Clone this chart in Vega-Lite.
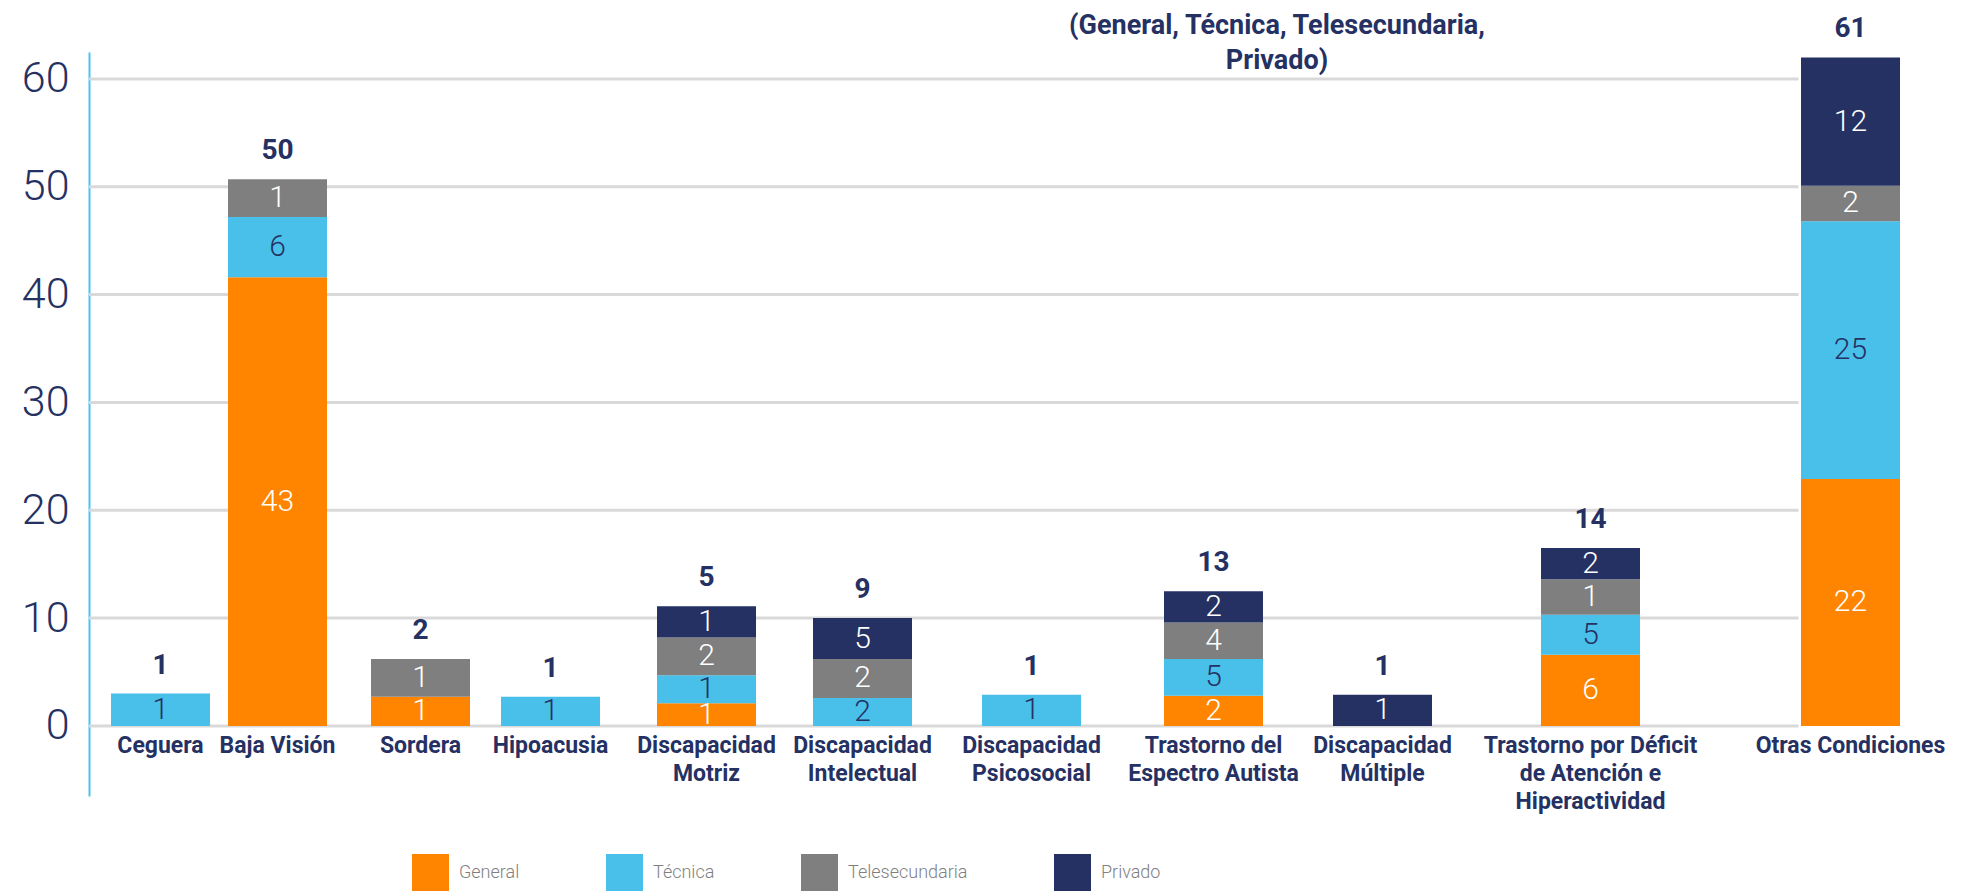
{
  "$schema": "https://vega.github.io/schema/vega-lite/v6.json",
  "width": 1702,
  "height": 744,
  "autosize": {"type": "none"},
  "padding": {"left": 89, "top": 52, "right": 184, "bottom": 95},
  "background": "white",
  "config": {
    "view": {"stroke": null},
    "font": "Roboto",
    "legend": {
      "orient": "none",
      "legendX": 323,
      "legendY": 802,
      "direction": "horizontal",
      "columns": 4,
      "padding": 0,
      "symbolType": "square",
      "symbolSize": 1369,
      "symbolStrokeWidth": 0,
      "symbolOpacity": 1,
      "labelFontSize": 18,
      "labelFont": "Roboto",
      "labelFontWeight": 300,
      "labelColor": "#7F7F7F",
      "columnPadding": 86,
      "labelOffset": 10
    }
  },
  "title": {
    "text": ["(General, Técnica, Telesecundaria,", "Privado)"],
    "anchor": "start",
    "frame": "group",
    "align": "center",
    "dx": 1188,
    "dy": 63,
    "offset": -24,
    "baseline": "bottom",
    "fontSize": 27,
    "fontWeight": "bold",
    "font": "Roboto",
    "color": "#263163",
    "lineHeight": 35
  },
  "data": {
    "values": [
      {"categoria": "Ceguera", "tipo": "Técnica", "valor": 1, "alto": 3.0},
      {"categoria": "Baja Visión", "tipo": "General", "valor": 43, "alto": 41.6},
      {"categoria": "Baja Visión", "tipo": "Técnica", "valor": 6, "alto": 5.6},
      {"categoria": "Baja Visión", "tipo": "Telesecundaria", "valor": 1, "alto": 3.5},
      {"categoria": "Sordera", "tipo": "General", "valor": 1, "alto": 2.7},
      {"categoria": "Sordera", "tipo": "Telesecundaria", "valor": 1, "alto": 3.5},
      {"categoria": "Hipoacusia", "tipo": "Técnica", "valor": 1, "alto": 2.7},
      {"categoria": "Discapacidad Motriz", "tipo": "General", "valor": 1, "alto": 2.1},
      {"categoria": "Discapacidad Motriz", "tipo": "Técnica", "valor": 1, "alto": 2.6},
      {"categoria": "Discapacidad Motriz", "tipo": "Telesecundaria", "valor": 2, "alto": 3.5},
      {"categoria": "Discapacidad Motriz", "tipo": "Privado", "valor": 1, "alto": 2.9},
      {"categoria": "Discapacidad Intelectual", "tipo": "Técnica", "valor": 2, "alto": 2.6},
      {"categoria": "Discapacidad Intelectual", "tipo": "Telesecundaria", "valor": 2, "alto": 3.6},
      {"categoria": "Discapacidad Intelectual", "tipo": "Privado", "valor": 5, "alto": 3.8},
      {"categoria": "Discapacidad Psicosocial", "tipo": "Técnica", "valor": 1, "alto": 2.9},
      {"categoria": "Trastorno del Espectro Autista", "tipo": "General", "valor": 2, "alto": 2.8},
      {"categoria": "Trastorno del Espectro Autista", "tipo": "Técnica", "valor": 5, "alto": 3.4},
      {"categoria": "Trastorno del Espectro Autista", "tipo": "Telesecundaria", "valor": 4, "alto": 3.4},
      {"categoria": "Trastorno del Espectro Autista", "tipo": "Privado", "valor": 2, "alto": 2.9},
      {"categoria": "Discapacidad Múltiple", "tipo": "Privado", "valor": 1, "alto": 2.9},
      {"categoria": "Trastorno por Déficit de Atención e Hiperactividad", "tipo": "General", "valor": 6, "alto": 6.6},
      {"categoria": "Trastorno por Déficit de Atención e Hiperactividad", "tipo": "Técnica", "valor": 5, "alto": 3.7},
      {"categoria": "Trastorno por Déficit de Atención e Hiperactividad", "tipo": "Telesecundaria", "valor": 1, "alto": 3.3},
      {"categoria": "Trastorno por Déficit de Atención e Hiperactividad", "tipo": "Privado", "valor": 2, "alto": 2.9},
      {"categoria": "Otras Condiciones", "tipo": "General", "valor": 22, "alto": 22.9},
      {"categoria": "Otras Condiciones", "tipo": "Técnica", "valor": 25, "alto": 23.9},
      {"categoria": "Otras Condiciones", "tipo": "Telesecundaria", "valor": 2, "alto": 3.3},
      {"categoria": "Otras Condiciones", "tipo": "Privado", "valor": 12, "alto": 11.9}
    ]
  },
  "transform": [
    {"calculate": "indexof(['General','Técnica','Telesecundaria','Privado'], datum.tipo)", "as": "orden"},
    {"stack": "alto", "groupby": ["categoria"], "sort": [{"field": "orden", "order": "ascending"}], "as": ["y0", "y1"]},
    {"calculate": "(datum.y0 + datum.y1) / 2", "as": "ymid"}
  ],
  "encoding": {
    "x": {
      "field": "categoria",
      "type": "nominal",
      "scale": {
        "type": "band",
        "paddingInner": 0,
        "paddingOuter": 0,
        "range": [0, 1833],
        "domain": ["_0","_1","_2","_3","_4","Ceguera",
          "_5","_6","_7","_8","_9","_10","_11","_12","Baja Visión",
          "_13","_14","_15","_16","_17","_18","_19","_20","_21","_22","Sordera",
          "_23","_24","_25","_26","_27","_28","_29","_30","_31","Hipoacusia",
          "_32","_33","_34","_35","_36","_37","_38","_39","_40","_41","_42","Discapacidad Motriz",
          "_43","_44","_45","_46","_47","_48","_49","_50","_51","_52","_53","Discapacidad Intelectual",
          "_54","_55","_56","_57","_58","_59","_60","_61","_62","_63","_64","_65","Discapacidad Psicosocial",
          "_66","_67","_68","_69","_70","_71","_72","_73","_74","_75","_76","_77","_78","Trastorno del Espectro Autista",
          "_79","_80","_81","_82","_83","_84","_85","_86","_87","_88","_89","_90","Discapacidad Múltiple",
          "_91","_92","_93","_94","_95","_96","_97","_98","_99","_100","_101","_102","_103","_104","_105","Trastorno por Déficit de Atención e Hiperactividad",
          "_106","_107","_108","_109","_110","_111","_112","_113","_114","_115","_116","_117","_118","_119","_120","_121","_122","_123","_124","Otras Condiciones",
          "_125","_126","_127","_128","_129"]
      },
      "axis": {
        "title": null,
        "orient": "bottom",
        "offset": -70,
        "domain": false,
        "ticks": false,
        "grid": false,
        "labelAngle": 0,
        "labelOverlap": false,
        "labelPadding": 8,
        "labelFont": "Roboto",
        "labelFontSize": 23,
        "labelFontWeight": "bold",
        "labelColor": "#263163",
        "labelLineHeight": 28,
        "labelLimit": 400,
        "labelExpr": "indexof(datum.value, '_') === 0 ? '' : datum.value == 'Discapacidad Motriz' ? ['Discapacidad', 'Motriz'] : datum.value == 'Discapacidad Intelectual' ? ['Discapacidad', 'Intelectual'] : datum.value == 'Discapacidad Psicosocial' ? ['Discapacidad', 'Psicosocial'] : datum.value == 'Trastorno del Espectro Autista' ? ['Trastorno del', 'Espectro Autista'] : datum.value == 'Discapacidad Múltiple' ? ['Discapacidad', 'Múltiple'] : datum.value == 'Trastorno por Déficit de Atención e Hiperactividad' ? ['Trastorno por Déficit', 'de Atención e', 'Hiperactividad'] : datum.value"
      }
    }
  },
  "layer": [
    {
      "data": {"values": [{"linea": 0}, {"linea": 10}, {"linea": 20}, {"linea": 30}, {"linea": 40}, {"linea": 50}, {"linea": 60}]},
      "mark": {"type": "rule", "color": "#D9D9D9", "strokeWidth": 3},
      "encoding": {
        "x": {"datum": "_0", "bandPosition": 0},
        "x2": {"datum": "_121"},
        "y": {
          "field": "linea",
          "type": "quantitative",
          "scale": {"domain": [-6.5, 62.5], "nice": false, "zero": false},
          "axis": {
            "title": null,
            "values": [0, 10, 20, 30, 40, 50, 60],
            "grid": false,
            "domainColor": "#4BC3EA",
            "domainWidth": 2,
            "ticks": false,
            "labelFont": "Roboto",
            "labelFontSize": 43,
            "labelFontWeight": 300,
            "labelColor": "#263163",
            "labelPadding": 20
          }
        }
      }
    },
    {
      "mark": {"type": "bar", "width": 99},
      "encoding": {
        "y": {"field": "y0", "type": "quantitative", "title": null},
        "y2": {"field": "y1"},
        "color": {
          "field": "tipo",
          "type": "nominal",
          "title": null,
          "scale": {"domain": ["General", "Técnica", "Telesecundaria", "Privado"], "range": ["#FF8500", "#49C0EA", "#7F7F7F", "#253163"]}
        }
      }
    },
    {
      "mark": {"type": "text", "font": "Roboto", "fontSize": 30, "fontWeight": 300, "baseline": "middle", "align": "center"},
      "encoding": {
        "y": {"field": "ymid", "type": "quantitative", "title": null},
        "text": {"field": "valor", "type": "quantitative"},
        "color": {"condition": {"test": "datum.tipo === 'Técnica'", "value": "#263163"}, "value": "#FFFFFF"}
      }
    },
    {
      "transform": [
        {"aggregate": [{"op": "sum", "field": "valor", "as": "total"}, {"op": "max", "field": "y1", "as": "tope"}], "groupby": ["categoria"]}
      ],
      "mark": {"type": "text", "font": "Roboto", "fontSize": 28, "fontWeight": "bold", "baseline": "middle", "align": "center", "dy": -28, "color": "#263163"},
      "encoding": {
        "y": {"field": "tope", "type": "quantitative", "title": null},
        "text": {"field": "total", "type": "quantitative"}
      }
    }
  ]
}
